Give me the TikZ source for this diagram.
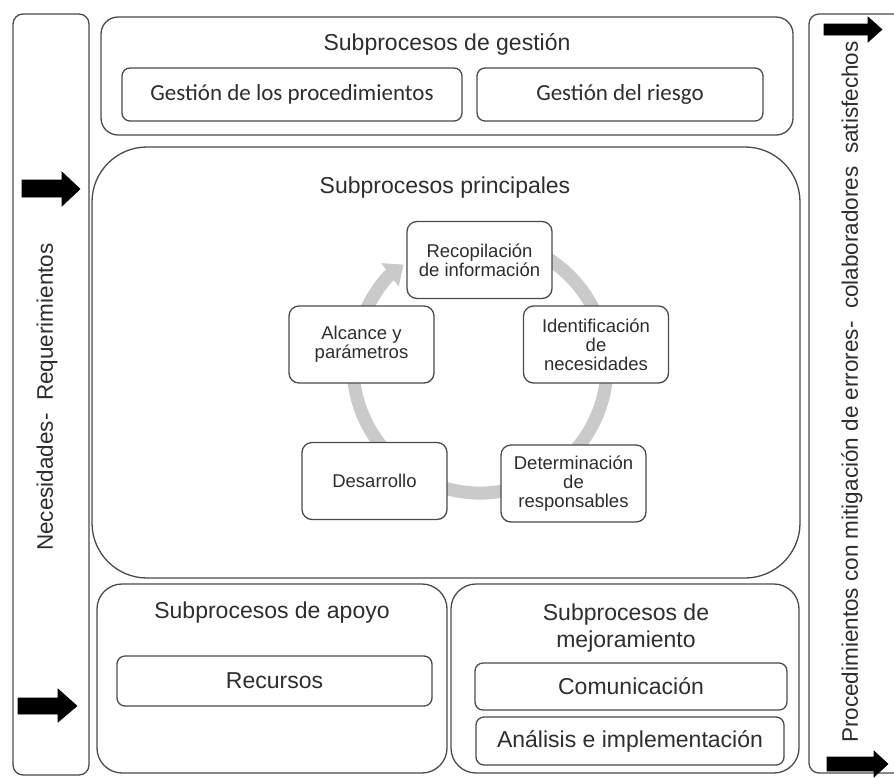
\documentclass[tikz,border=0pt]{standalone}
\usepackage{fontspec}
\setmainfont{Liberation Sans}
\newfontfamily\carlito{Carlito}
\usetikzlibrary{arrows.meta}
\definecolor{boxline}{HTML}{4A4A4A}
\definecolor{inktext}{HTML}{2E2E2E}
\definecolor{ringgray}{HTML}{CACACA}
\begin{document}
\begin{tikzpicture}[x=1pt,y=-1pt,
  panel/.style={draw=boxline, line width=1.3pt, fill=white, inner sep=0pt},
  cyclebox/.style={panel, rounded corners=10pt, minimum width=145pt, minimum height=77pt,
    align=center, text=inktext, font=\fontsize{18.5}{19}\selectfont},
  innerbox/.style={panel, rounded corners=8pt, text=inktext},
  title/.style={text=inktext, font=\fontsize{23}{27}\selectfont, align=center, inner sep=0pt},
  sidetext/.style={text=inktext, font=\fontsize{22.5}{25}\selectfont, rotate=90, inner sep=0pt},
  blockarrow/.style={fill=black, draw=black, line width=0.6pt, line join=miter}
]
\useasboundingbox (0,0) rectangle (894,777);

% side bars
\node[panel, rounded corners=10pt, minimum width=76pt, minimum height=761pt] (inbar) at (51,394.5) {};
\node[panel, rounded corners=10pt, minimum width=101pt, minimum height=759pt] (outbar) at (859.5,393.5) {};

% management subprocesses
\node[panel, rounded corners=17pt, minimum width=692pt, minimum height=118pt] (gest) at (447,76) {};
\node[title] (gesttitle) at (447,44) {Subprocesos de gestión};
\node[innerbox, minimum width=340pt, minimum height=53pt, font=\carlito\fontsize{23}{26}\selectfont] (proc) at (292,94.5) {Gestión de los procedimientos};
\node[innerbox, minimum width=286pt, minimum height=53pt, font=\carlito\fontsize{23}{26}\selectfont] (riesgo) at (620,94.5) {Gestión del riesgo};

% main subprocesses
\node[panel, rounded corners=55pt, minimum width=708pt, minimum height=431pt] (main) at (446,362.5) {};
\node[title] (maintitle) at (445,188) {Subprocesos principales};

% cycle ring with arrowhead
\draw[ringgray, line width=13pt, -{Triangle[width=28pt,length=17pt]}]
  (480,366) ++(-70:127) arc[start angle=-70, end angle=233, radius=127];

\node[cyclebox] (recop) at (479.5,260) {Recopilación\\de información};
\node[cyclebox] (ident) at (596,344.5) {Identificación\\de\\necesidades};
\node[cyclebox] (determ) at (573.5,483.5) {Determinación\\de\\responsables};
\node[cyclebox] (desarr) at (374.5,481) {Desarrollo};
\node[cyclebox] (alcance) at (361.5,344.5) {Alcance y\\parámetros};

% support subprocesses
\node[panel, rounded corners=25pt, minimum width=350pt, minimum height=189pt] (apoyo) at (272,678.5) {};
\node[title] (apoyotitle) at (272,613) {Subprocesos de apoyo};
\node[innerbox, minimum width=315pt, minimum height=50pt, font=\fontsize{23}{26}\selectfont] (recursos) at (274.5,681) {Recursos};

% improvement subprocesses
\node[panel, rounded corners=25pt, minimum width=348pt, minimum height=189pt] (mejora) at (625,678.5) {};
\node[title] (mejoratitle) at (626,628) {Subprocesos de\\mejoramiento};
\node[innerbox, minimum width=312pt, minimum height=47pt, font=\fontsize{23}{26}\selectfont] (comunic) at (631,686.5) {Comunicación};
\node[innerbox, minimum width=308pt, minimum height=48pt, font=\fontsize{23}{26}\selectfont] (analisis) at (630,741) {Análisis e implementación};

% side labels
\node[sidetext] (inlabel) at (47,397) {Necesidades-\ \ Requerimientos};
\node[sidetext] (outlabel) at (852,392) {Procedimientos con mitigación de errores-\ \ colaboradores\ \ satisfechos};

% block arrows
\fill[blockarrow] (22,180) -- (62,180) -- (62,172) -- (80,189) -- (62,206) -- (62,197) -- (22,197) -- cycle;
\fill[blockarrow] (18,698) -- (58,698) -- (58,689) -- (77,706) -- (58,722) -- (58,714) -- (18,714) -- cycle;
\fill[blockarrow] (824,24) -- (868,24) -- (868,17) -- (882,29.5) -- (868,42) -- (868,35) -- (824,35) -- cycle;
\fill[blockarrow] (827,757) -- (874,757) -- (874,751) -- (888,764) -- (874,777) -- (874,771) -- (827,771) -- cycle;
\end{tikzpicture}
\end{document}
